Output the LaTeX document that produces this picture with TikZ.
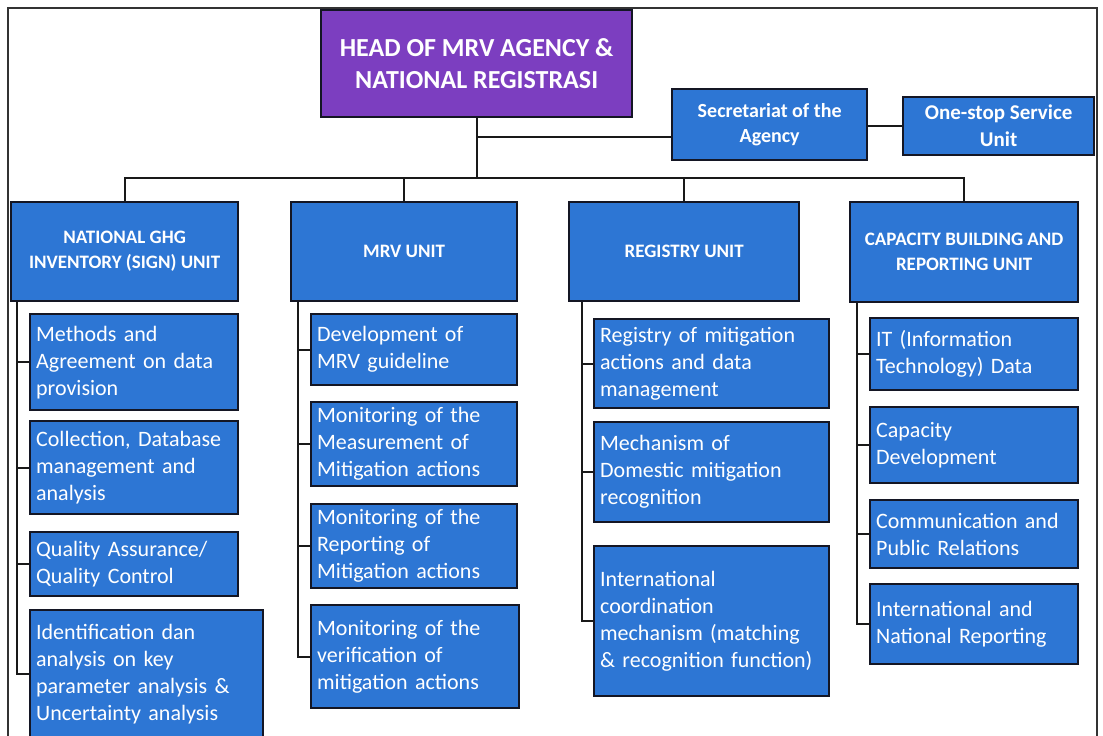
\documentclass[tikz,border=0pt]{standalone}
\usepackage{fontspec}
\setmainfont{Carlito}
\definecolor{unitblue}{RGB}{45,118,212}
\definecolor{headpurple}{RGB}{124,62,192}
\definecolor{edgeline}{RGB}{20,22,36}
\begin{document}
\begin{tikzpicture}[x=1pt,y=-1pt,
  frame/.style={draw=black!80,line width=1.3pt},
  conn/.style={draw=black!90,line width=2.3pt},
  box/.style={draw=edgeline,line width=2.3pt,fill=unitblue,text=white,inner sep=0pt},
  headbox/.style={box,fill=headpurple,align=center,anchor=north west,
    font=\bfseries\fontsize{26}{32}\selectfont},
  midbox/.style={box,align=center,anchor=north west,
    font=\bfseries\fontsize{20}{25}\selectfont},
  unitbox/.style={box,align=center,anchor=north west,
    font=\bfseries\fontsize{19}{25}\selectfont},
  subbox/.style={box,align=left,anchor=north west,inner xsep=6pt,
    font=\fontsize{22}{27}\selectfont}]
\useasboundingbox (0,0) rectangle (1103,736);
\fill[white] (0,0) rectangle (1103,736);
\draw[frame] (8,745) -- (8,8) -- (1097,8) -- (1097,745);

% top level
\node[headbox,minimum width=311pt,minimum height=107pt] (head) at (320,9)
  {HEAD OF MRV AGENCY \&\\NATIONAL REGISTRASI};
\node[midbox,minimum width=195pt,minimum height=71pt] (sec) at (671,88)
  {Secretariat of the\\Agency};
\node[midbox,minimum width=191pt,minimum height=58pt,
  font=\bfseries\fontsize{21}{27}\selectfont] (oss) at (902,96)
  {One-stop Service\\Unit};

% units
\node[unitbox,minimum width=227pt,minimum height=99pt] (ghg) at (10,201)
  {NATIONAL GHG\\INVENTORY (SIGN) UNIT};
\node[unitbox,minimum width=226pt,minimum height=99pt] (mrv) at (290,201)
  {MRV UNIT};
\node[unitbox,minimum width=230pt,minimum height=99pt] (reg) at (568,201)
  {REGISTRY UNIT};
\node[unitbox,minimum width=228pt,minimum height=100pt] (cap) at (849,201)
  {CAPACITY BUILDING AND\\REPORTING UNIT};

% national GHG inventory sub-units
\node[subbox,text width=196pt,minimum height=96pt] (g1) at (29,313)
  {Methods and\\Agreement on data\\provision};
\node[subbox,text width=196pt,minimum height=93pt] (g2) at (29,420)
  {Collection, Database\\management and\\analysis};
\node[subbox,text width=196pt,minimum height=64pt] (g3) at (29,531)
  {Quality Assurance/\\Quality Control};
\node[subbox,text width=221pt,minimum height=128pt] (g4) at (29,609)
  {Identification dan\\analysis on key\\parameter analysis \&\\Uncertainty analysis};

% MRV sub-units
\node[subbox,text width=194pt,minimum height=71pt] (m1) at (310,313)
  {Development of\\MRV guideline};
\node[subbox,text width=194pt,minimum height=84pt] (m2) at (310,401)
  {Monitoring of the\\Measurement of\\Mitigation actions};
\node[subbox,text width=194pt,minimum height=84pt] (m3) at (310,503)
  {Monitoring of the\\Reporting of\\Mitigation actions};
\node[subbox,text width=196pt,minimum height=103pt] (m4) at (310,604)
  {Monitoring of the\\verification of\\mitigation actions};

% registry sub-units
\node[subbox,text width=223pt,minimum height=89pt] (r1) at (593,318)
  {Registry of mitigation\\actions and data\\management};
\node[subbox,text width=223pt,minimum height=100pt] (r2) at (593,421)
  {Mechanism of\\Domestic mitigation\\recognition};
\node[subbox,text width=223pt,minimum height=150pt] (r3) at (593,545)
  {International\\coordination\\mechanism (matching\\\& recognition function)};

% capacity building sub-units
\node[subbox,text width=196pt,minimum height=72pt] (c1) at (869,317)
  {IT (Information\\Technology) Data};
\node[subbox,text width=196pt,minimum height=76pt] (c2) at (869,406)
  {Capacity\\Development};
\node[subbox,text width=196pt,minimum height=68pt] (c3) at (869,499)
  {Communication and\\Public Relations};
\node[subbox,text width=196pt,minimum height=80pt] (c4) at (869,583)
  {International and\\National Reporting};

% connector rails
\coordinate (bus) at (0,178);
\coordinate (jsec) at (477,137);
\coordinate (sg) at (17,0);
\coordinate (sm) at (298,0);
\coordinate (sr) at (582,0);
\coordinate (sc) at (857,0);

% head to secretariat and units
\draw[conn] (head.south) -- (head.south |- bus);
\draw[conn] (jsec) -- (jsec -| sec.west);
\draw[conn] (sec.east |- oss.west) -- (oss.west);
\draw[conn] (ghg.north) -- (ghg.north |- bus) -- (cap.north |- bus) -- (cap.north);
\draw[conn] (mrv.north |- bus) -- (mrv.north);
\draw[conn] (reg.north |- bus) -- (reg.north);

% unit spines and ticks
\draw[conn] (ghg.south -| sg) |- (g4.west);
\foreach \s in {g1,g2,g3} \draw[conn] (\s.west -| sg) -- (\s.west);
\draw[conn] (mrv.south -| sm) |- (m4.west);
\foreach \s in {m1,m2,m3} \draw[conn] (\s.west -| sm) -- (\s.west);
\draw[conn] (reg.south -| sr) |- (r3.west);
\foreach \s in {r1,r2} \draw[conn] (\s.west -| sr) -- (\s.west);
\draw[conn] (cap.south -| sc) |- (c4.west);
\foreach \s in {c1,c2,c3} \draw[conn] (\s.west -| sc) -- (\s.west);
\end{tikzpicture}
\end{document}
